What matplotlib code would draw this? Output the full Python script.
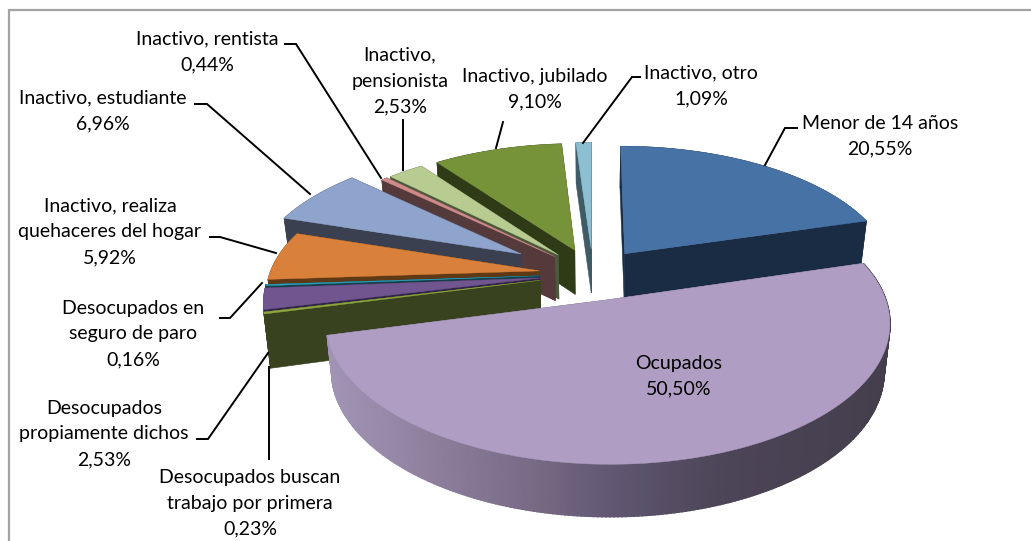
import numpy as np
import matplotlib
matplotlib.use("Agg")
import matplotlib.pyplot as plt
from matplotlib.patches import Rectangle
from matplotlib.colors import to_rgb

categories = ["Menor de 14 años", "Ocupados", "Desocupados buscan\ntrabajo por primera",
              "Desocupados\npropiamente dichos", "Desocupados en\nseguro de paro",
              "Inactivo, realiza\nquehaceres del hogar", "Inactivo, estudiante",
              "Inactivo, rentista", "Inactivo,\npensionista", "Inactivo, jubilado", "Inactivo, otro"]
values = [20.55, 50.50, 0.23, 2.53, 0.16, 5.92, 6.96, 0.44, 2.53, 9.10, 1.09]

top_colors = ["#4672a6", "#af9dc3", "#8ea63f", "#70558e", "#2f9db5", "#d9803a", "#8ea4cc",
              "#d08a8a", "#b8cb90", "#77933a", "#8dbfd3"]
wall_colors = ["#1a2c44", "#6e6280", "#38421e", "#33254a", "#14404c", "#5f3816", "#3a4050",
               "#553a3b", "#4c5a3c", "#2f3a16", "#3e5b66"]
wall_depth = [45, 47, 53, 45, 45, 45, 45, 45, 45, 45, 45]
explode = [0.2, 0.2, 0.2, 0.2, 0.2, 0.2, 0.315, 0.2, 0.2, 0.2, 0.2]
draw_order = [10, 9, 8, 7, 6, 5, 4, 3, 2, 0, 1]

label_xy = [(880, 136), (679, 376), (250, 503), (104, 434), (133, 334), (110, 232), (103, 111),
            (207, 52), (400, 81), (535, 89), (701, 86)]
leaders = [[(797, 128), (785, 128), (765, 165)], [],
           [(269, 367), (269, 459)],
           [(197, 439), (208, 439), (268, 353)],
           [(220, 318), (230, 318), (262, 283)],
           [(210, 237), (220, 237), (276, 253)],
           [(195, 104), (207, 104), (310, 194)],
           [(285, 44), (296, 44), (381, 178)],
           [(403, 120), (403, 170)],
           [(503, 122), (496, 148)],
           [(640, 77), (632, 77), (583, 143)]]

CX, CY, A, B, K = 593.0, 274.0, 270.0, 130.0, 0.155


def project(u, v):
    s = 1.0 / (1.0 + K * v)
    return CX + A * u * s, CY - B * v * s, s


fig = plt.figure(figsize=(10.31, 5.41), dpi=100)
ax = fig.add_axes([0, 0, 1, 1])
ax.set_xlim(0, 1031)
ax.set_ylim(541, 0)
ax.axis("off")
ax.add_patch(Rectangle((9, 10), 1030, 545, fc="white", ec="#a3a3a3", lw=1.6, zorder=0))

stops_x = [330, 420, 520, 620, 720, 890]
stops_c = [to_rgb(c) for c in ["#a193b3", "#90829f", "#7a6d89", "#5f5570", "#4d4558", "#443e4c"]]

edges = np.concatenate([[0], np.cumsum(values)]) / sum(values) * 2 * np.pi
z = 1
for i in draw_order:
    t0, t1 = edges[i], edges[i + 1]
    mid = (t0 + t1) / 2
    eu, ev = explode[i] * np.sin(mid), explode[i] * np.cos(mid)
    th = np.linspace(t0, t1, max(4, int((t1 - t0) * 80)))
    tx, ty, _ = project(eu, ev)
    ax_, ay_, s_ = project(eu + np.sin(th), ev + np.cos(th))
    h = wall_depth[i] * (1 + 0.5 * (s_ - 1))
    bx = CX + (ax_ - CX) * 0.98
    by = ay_ + h
    tbx = CX + (tx - CX) * 0.98
    tby = ty + wall_depth[i] * 0.98
    # cut faces
    for k in (-1, 0):
        ax.fill([tx, ax_[k], bx[k], tbx], [ty, ay_[k], by[k], tby],
                fc=wall_colors[i], ec=wall_colors[i], lw=0.4, zorder=z)
    # outer wall
    ax.fill(np.r_[ax_, bx[::-1]], np.r_[ay_, by[::-1]], fc=wall_colors[i], ec=wall_colors[i],
            lw=0.4, zorder=z)
    if i == 1:
        for j in range(len(th) - 1):
            xm = (ax_[j] + ax_[j + 1]) / 2
            col = [np.interp(xm, stops_x, [c[n] for c in stops_c]) for n in range(3)]
            ax.fill([ax_[j], ax_[j + 1], bx[j + 1], bx[j]],
                    [ay_[j], ay_[j + 1], by[j + 1], by[j]],
                    fc=col, ec=col, lw=1.2, zorder=z)
    # top surface
    ax.fill(np.r_[tx, ax_], np.r_[ty, ay_], fc=top_colors[i], ec=top_colors[i],
            lw=0.3, zorder=z + 0.5)
    z += 1

for path in leaders:
    if path:
        xs, ys = zip(*path)
        ax.plot(xs, ys, color="black", lw=1.4, solid_joinstyle="miter", zorder=50)

for name, val, (x, y) in zip(categories, values, label_xy):
    txt = name + "\n" + f"{val:.2f}".replace(".", ",") + "%"
    ax.text(x, y, txt, ha="center", va="center", family="Lato", fontsize=14,
            linespacing=1.63, color="black", zorder=60)

fig.savefig("out.png", dpi=100)
